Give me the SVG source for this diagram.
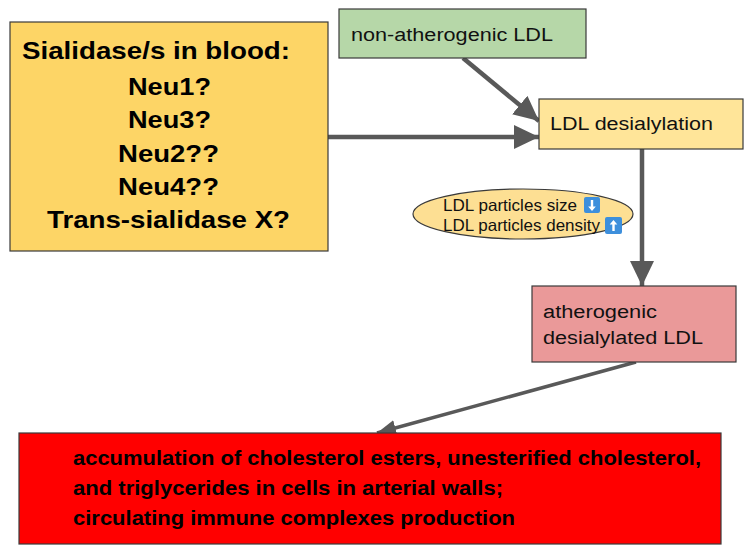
<svg xmlns="http://www.w3.org/2000/svg" width="751" height="554" viewBox="0 0 751 554">
<defs>
<style>
.box{stroke:#3a3a3a;stroke-width:1.2}
.t{font-family:"Liberation Sans",Arial,sans-serif;fill:#111}
.b{font-weight:bold;fill:#000}
.con{stroke:#595959;fill:none}
.ic{fill:#3d8fdc}
.ia{fill:#fff}
</style>
<marker id="big" markerUnits="userSpaceOnUse" markerWidth="26" markerHeight="24" refX="25" refY="12" orient="auto"><path d="M0,0 L25,12 L0,24 z" fill="#595959"/></marker>
<marker id="small" markerUnits="userSpaceOnUse" markerWidth="20" markerHeight="16" refX="19" refY="8" orient="auto"><path d="M0,0 L19,8 L0,16 z" fill="#595959"/></marker>
</defs>
<rect width="751" height="554" fill="#fff"/>
<g id="connectors">
<line class="con" x1="328" y1="137" x2="539" y2="137" stroke-width="4.5" marker-end="url(#big)"/>
<line class="con" x1="463" y1="58" x2="539" y2="121" stroke-width="4.5" marker-end="url(#big)"/>
<line class="con" x1="642" y1="149" x2="642" y2="286" stroke-width="4.5" marker-end="url(#big)"/>
<line class="con" x1="636" y1="362" x2="377" y2="433" stroke-width="3.5" marker-end="url(#small)"/>
</g>
<g id="sialidases">
<rect class="box" x="10" y="22" width="318" height="229" fill="#fdd566"/>
<text class="t b" x="22" y="59" font-size="24.5" textLength="268" lengthAdjust="spacingAndGlyphs">Sialidase/s in blood:</text>
<text class="t b" x="128" y="95" font-size="24.5" textLength="83" lengthAdjust="spacingAndGlyphs">Neu1?</text>
<text class="t b" x="128" y="128" font-size="24.5" textLength="83" lengthAdjust="spacingAndGlyphs">Neu3?</text>
<text class="t b" x="118" y="162" font-size="24.5" textLength="101" lengthAdjust="spacingAndGlyphs">Neu2??</text>
<text class="t b" x="118" y="195" font-size="24.5" textLength="101" lengthAdjust="spacingAndGlyphs">Neu4??</text>
<text class="t b" x="47" y="228" font-size="24.5" textLength="243" lengthAdjust="spacingAndGlyphs">Trans-sialidase X?</text>
</g>
<g id="nonatherogenic">
<rect class="box" x="339" y="9" width="247" height="49" fill="#b6d7a8"/>
<text class="t" x="351" y="41" font-size="18" textLength="202" lengthAdjust="spacingAndGlyphs">non-atherogenic LDL</text>
</g>
<g id="desialylation">
<rect class="box" x="539" y="99" width="204" height="50" fill="#ffe599"/>
<text class="t" x="550" y="130" font-size="18" textLength="163" lengthAdjust="spacingAndGlyphs">LDL desialylation</text>
</g>
<g id="particles">
<ellipse class="box" cx="523" cy="214" rx="110" ry="25" fill="#fddf93"/>
<text class="t" x="443" y="211" font-size="16.5" textLength="134" lengthAdjust="spacingAndGlyphs">LDL particles size</text>
<text class="t" x="443" y="231" font-size="16.5" textLength="157" lengthAdjust="spacingAndGlyphs">LDL particles density</text>
<g>
<rect class="ic" x="584" y="197" width="16" height="16" rx="2"/>
<path class="ia" d="M590.8,200 h2.4 v6.5 h2.6 l-3.8,4.5 l-3.8,-4.5 h2.6 z"/>
</g>
<g>
<rect class="ic" x="605" y="217" width="17" height="17" rx="2"/>
<path class="ia" d="M612.3,231 h2.4 v-6.5 h2.6 l-3.8,-4.5 l-3.8,4.5 h2.6 z"/>
</g>
</g>
<g id="atherogenic">
<rect class="box" x="532" y="286" width="204" height="76" fill="#ea9999"/>
<text class="t" x="543" y="318" font-size="18" textLength="114" lengthAdjust="spacingAndGlyphs">atherogenic</text>
<text class="t" x="543" y="344" font-size="18" textLength="160" lengthAdjust="spacingAndGlyphs">desialylated LDL</text>
</g>
<g id="accumulation">
<rect class="box" x="19" y="433" width="702" height="111" fill="#ff0000"/>
<text class="t b" x="73" y="465" font-size="20" textLength="628" lengthAdjust="spacingAndGlyphs">accumulation of cholesterol esters, unesterified cholesterol,</text>
<text class="t b" x="73" y="495" font-size="20" textLength="430" lengthAdjust="spacingAndGlyphs">and triglycerides in cells in arterial walls;</text>
<text class="t b" x="73" y="525" font-size="20" textLength="442" lengthAdjust="spacingAndGlyphs">circulating immune complexes production</text>
</g>
</svg>
